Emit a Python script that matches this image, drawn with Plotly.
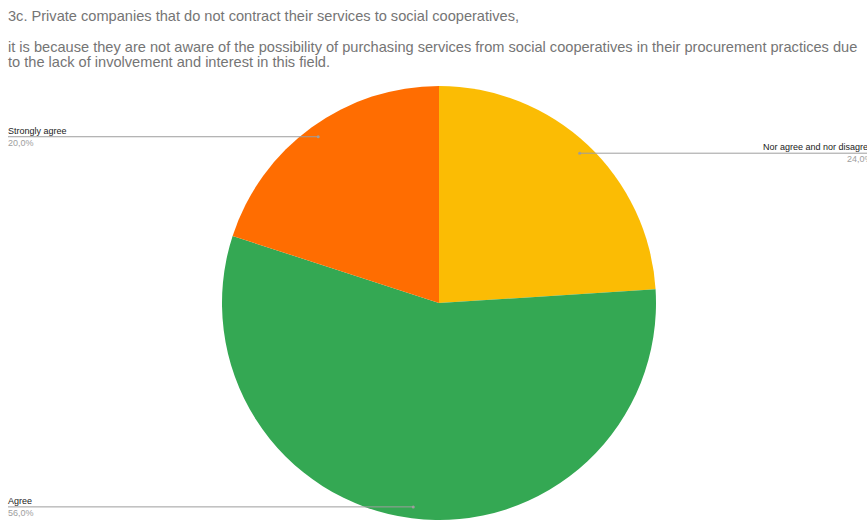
import math
import plotly.graph_objects as go

# Survey responses, listed clockwise from 12 o'clock
labels = ["Nor agree and nor disagree", "Agree", "Strongly agree"]
values = [24, 56, 20]
colors = ["#fbbc04", "#34a853", "#ff6d01"]

title_lines = [
    "3c. Private companies that do not contract their services to social cooperatives,",
    "it is because they are not aware of the possibility of purchasing services from social cooperatives in their procurement practices due",
    "to the lack of involvement and interest in this field.",
]

W, H = 867, 520
cx, cy, R = 439, 303, 217  # pie centre / radius in pixels

fig = go.Figure(
    go.Pie(
        labels=labels,
        values=values,
        marker=dict(colors=colors, line=dict(width=0)),
        sort=False,
        direction="clockwise",
        rotation=0,
        textinfo="none",
        hoverinfo="label+percent",
        showlegend=False,
        domain=dict(x=[(cx - R) / W, (cx + R) / W], y=[(H - cy - R) / H, (H - cy + R) / H]),
    )
)

font_family = "Liberation Sans, Arial, sans-serif"
annotations = []
shapes = []

# Title lines
title_y = [16, 47, 61.5]
for text, ty in zip(title_lines, title_y):
    annotations.append(dict(
        text=text, x=6 / W, y=1 - ty / H, xref="paper", yref="paper",
        xanchor="left", yanchor="middle", showarrow=False,
        font=dict(family=font_family, size=14.6, color="#757575"),
    ))

# Leader lines: each runs from a dot at the slice's mid-angle out to its label
total = sum(values)
label_side = {"Nor agree and nor disagree": ("right", 875), "Agree": ("left", 8), "Strongly agree": ("left", 8)}
cum = 0
for lab, v in zip(labels, values):
    mid = (cum + v / 2) / total * 2 * math.pi
    cum += v
    r = 0.947 * R
    dx = cx + r * math.sin(mid)
    dy = cy - r * math.cos(mid)
    side, lx = label_side[lab]
    tx = lx - 2 if side == "left" else lx
    yp = 1 - dy / H
    shapes.append(dict(type="line", xref="paper", yref="paper", x0=lx / W, x1=dx / W, y0=yp, y1=yp,
                       line=dict(color="#9e9e9e", width=1)))
    shapes.append(dict(type="circle", xref="paper", yref="paper",
                       x0=(dx - 1.5) / W, x1=(dx + 1.5) / W, y0=yp - 1.5 / H, y1=yp + 1.5 / H,
                       fillcolor="#9e9e9e", line=dict(width=0)))
    pct = f"{v / total * 100:.1f}".replace(".", ",") + "%"
    annotations.append(dict(
        text=lab, x=tx / W, y=1 - (dy - 6) / H, xref="paper", yref="paper",
        xanchor=side, yanchor="middle", showarrow=False,
        font=dict(family=font_family, size=9, color="#222222"),
    ))
    annotations.append(dict(
        text=pct, x=tx / W, y=1 - (dy + 6) / H, xref="paper", yref="paper",
        xanchor=side, yanchor="middle", showarrow=False,
        font=dict(family=font_family, size=9, color="#9e9e9e"),
    ))

fig.update_layout(
    width=W, height=H,
    margin=dict(l=0, r=0, t=0, b=0),
    paper_bgcolor="white",
    plot_bgcolor="white",
    annotations=annotations,
    shapes=shapes,
)

fig.write_html("out.html")
